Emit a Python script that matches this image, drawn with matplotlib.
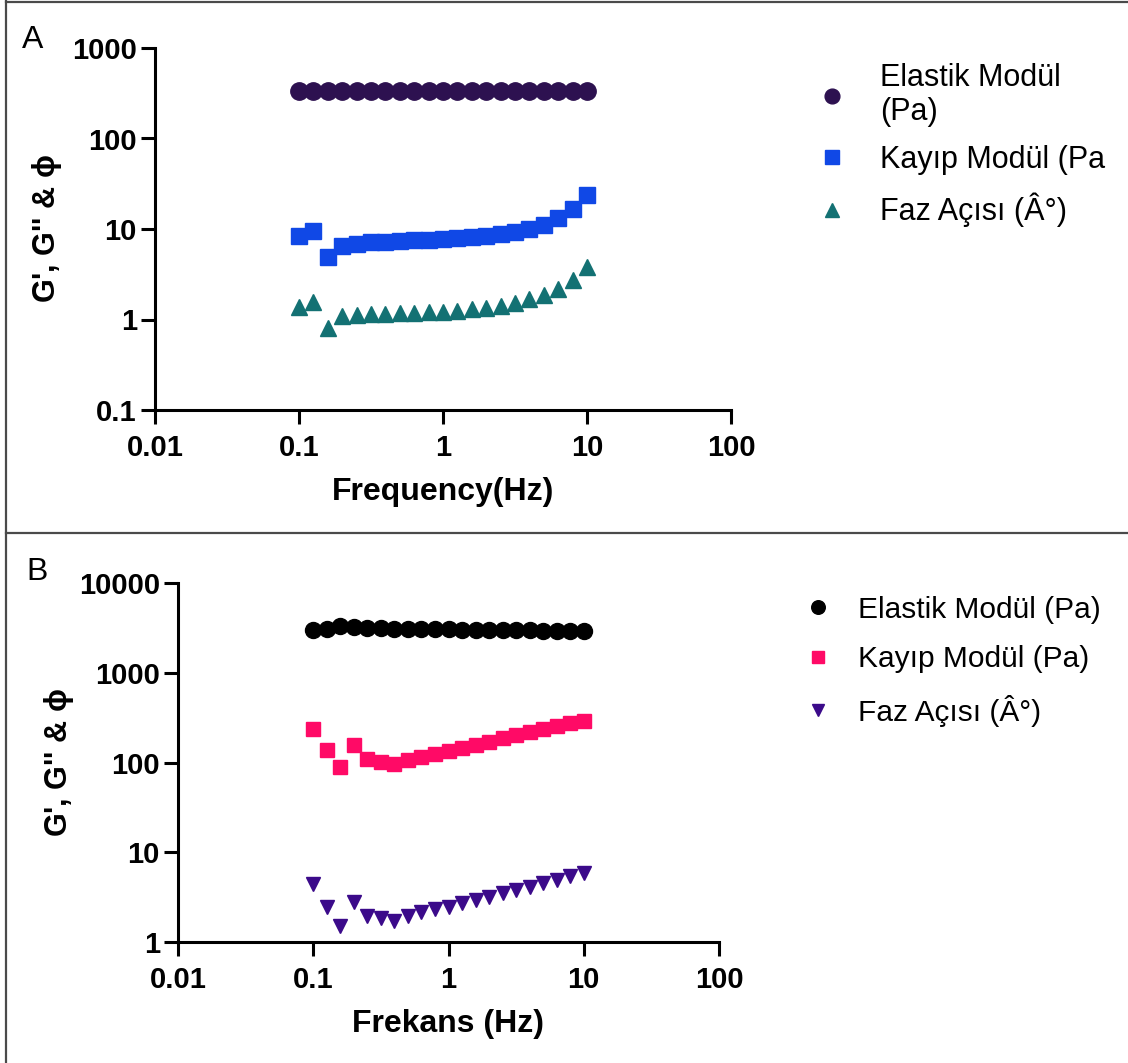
import matplotlib.pyplot as plt
from matplotlib.lines import Line2D

plt.rcParams['font.family'] = ['Liberation Sans', 'DejaVu Sans']

# frecuencias (Hz), 10 puntos por década
freq = [0.1, 0.1259, 0.1585, 0.1995, 0.2512, 0.3162, 0.3981, 0.5012, 0.631, 0.7943,
        1.0, 1.259, 1.585, 1.995, 2.512, 3.162, 3.981, 5.012, 6.31, 7.943, 10.0]

# muestra A
elastik_a = [338, 338, 338, 338, 338, 338, 338, 338, 338, 338,
             338, 338, 338, 338, 338, 338, 338, 338, 338, 338, 338]
kayip_a = [8.4, 9.4, 4.9, 6.5, 6.8, 7.1, 7.2, 7.4, 7.5, 7.6,
           7.8, 8.0, 8.2, 8.4, 8.8, 9.3, 10.0, 11.2, 13.1, 16.6, 23.8]
faz_a = [1.39, 1.55, 0.81, 1.09, 1.12, 1.15, 1.15, 1.17, 1.17, 1.20,
         1.22, 1.25, 1.29, 1.33, 1.41, 1.51, 1.67, 1.85, 2.16, 2.73, 3.84]

# muestra B
elastik_b = [2990, 3050, 3320, 3260, 3180, 3120, 3100, 3070, 3070, 3050,
             3050, 3020, 3020, 2990, 2990, 2970, 2970, 2940, 2940, 2910, 2890]
kayip_b = [234, 138, 88, 157, 110, 102, 95, 107, 116, 124,
           133, 144, 157, 171, 186, 202, 220, 236, 257, 273, 292]
faz_b = [4.43, 2.47, 1.52, 2.81, 1.96, 1.85, 1.70, 1.96, 2.14, 2.33,
         2.47, 2.70, 2.94, 3.15, 3.49, 3.80, 4.13, 4.50, 4.91, 5.44, 5.83]

W, H = 1128, 1063
fig = plt.figure(figsize=(W / 100, H / 100), dpi=100)


def px_axes(left, top, right, bottom):
    return fig.add_axes([left / W, 1 - bottom / H, (right - left) / W, (bottom - top) / H])


def prism_style(ax, xlabel, ylim, yticks, ypad):
    ax.set_xscale('log')
    ax.set_yscale('log')
    ax.set_xlim(0.01, 100)
    ax.set_ylim(*ylim)
    ax.set_xticks([0.01, 0.1, 1, 10, 100])
    ax.set_xticklabels(['0.01', '0.1', '1', '10', '100'])
    ax.set_yticks(yticks)
    ax.set_yticklabels([('%g' % t) for t in yticks])
    ax.minorticks_off()
    for s in ['top', 'right']:
        ax.spines[s].set_visible(False)
    for s in ['left', 'bottom']:
        ax.spines[s].set_linewidth(2.2)
    ax.tick_params(width=2.2, length=10, labelsize=21)
    ax.tick_params(axis='x', pad=7)
    ax.tick_params(axis='y', pad=3)
    for lab in ax.get_xticklabels() + ax.get_yticklabels():
        lab.set_fontweight('bold')
    ax.set_xlabel(xlabel, fontsize=23, fontweight='bold', labelpad=11)
    ax.set_ylabel("G', G'' & $\\mathregular{ϕ}$", fontsize=22, fontweight='bold',
                  labelpad=ypad)
    ax.patch.set_alpha(0)


# Panel A
ax1 = px_axes(155, 48, 731, 410)
ax1.plot(freq, elastik_a, 'o', color='#2d1150', ms=12.5, label='Elastik Modül\n(Pa)')
ax1.plot(freq, kayip_a, 's', color='#1048e6', ms=11.5, label='Kayıp Modül (Pa')
ax1.plot(freq, faz_a, '^', color='#137173', ms=11.5, label='Faz Açısı (Â°)')
prism_style(ax1, 'Frequency(Hz)', (0.1, 1000), [0.1, 1, 10, 100, 1000], 6)
ax1.legend(loc='upper left', bbox_to_anchor=(1.095, 1.035), frameon=False,
           fontsize=22, handletextpad=1.0, labelspacing=0.58, markerscale=0.85,
           handlelength=1.2)

# Panel B
ax2 = px_axes(178, 583, 719, 942)
ax2.plot(freq, elastik_b, 'o', color='#000000', ms=11.5, label='Elastik Modül (Pa)')
ax2.plot(freq, kayip_b, 's', color='#ff0a66', ms=10.5, label='Kayıp Modül (Pa)')
ax2.plot(freq, faz_b, 'v', color='#3b0a8a', ms=10.5, label='Faz Açısı (Â°)')
prism_style(ax2, 'Frekans (Hz)', (1, 10000), [1, 10, 100, 1000, 10000], 2)
ax2.legend(loc='upper left', bbox_to_anchor=(1.1, 1.04), frameon=False,
           fontsize=21.5, handletextpad=0.75, labelspacing=0.72, markerscale=0.85,
           handlelength=1.2)

# etiquetas de panel
fig.text(22 / W, 1 - 40 / H, 'A', fontsize=23, va='center', ha='left')
fig.text(26 / W, 1 - 572 / H, 'B', fontsize=23, va='center', ha='left')

# marco
for xs, ys in [([6, 6], [0, H]), ([6, W], [2, 2]), ([6, W], [533, 533])]:
    fig.add_artist(Line2D([x / W for x in xs], [1 - y / H for y in ys],
                          color='#4a4a4a', lw=1.6))

fig.savefig('out.png', dpi=100, facecolor='white')
